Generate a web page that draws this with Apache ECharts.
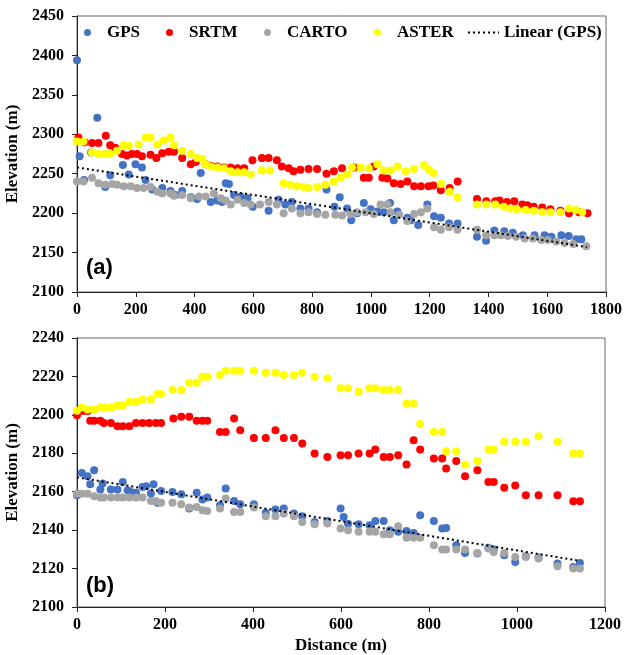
<!DOCTYPE html>
<html>
<head>
<meta charset="utf-8">
<script src="https://cdn.jsdelivr.net/npm/echarts@6/dist/echarts.min.js"></script>
<style>
  html, body { margin: 0; padding: 0; background: #fff; }
  #chart { width: 624px; height: 655px; }
</style>
</head>
<body>
<div id="chart"></div>
<script>
// panel (a) - [distance m, elevation m]
var gpsA = [[0,2394],[9,2272],[24,2242],[48,2277],[69,2321],[96,2233],[113,2248],[156,2261],[176,2249],[199,2262],[221,2258],[233,2242],[256,2230],[290,2232],[318,2228],[335,2223],[358,2228],[387,2220],[409,2218],[421,2251],[455,2214],[477,2216],[494,2214],[506,2238],[517,2237],[534,2223],[557,2221],[580,2219],[598,2208],[652,2203],[686,2217],[709,2211],[731,2214],[760,2206],[788,2206],[817,2201],[849,2230],[876,2208],[894,2220],[919,2206],[933,2191],[953,2200],[976,2213],[999,2205],[1022,2202],[1044,2201],[1065,2213],[1078,2191],[1090,2202],[1124,2194],[1136,2191],[1161,2185],[1192,2211],[1215,2196],[1238,2194],[1266,2187],[1295,2187],[1361,2170],[1392,2165],[1420,2178],[1454,2177],[1483,2175],[1517,2172],[1557,2172],[1591,2172],[1614,2170],[1648,2172],[1673,2171],[1699,2167],[1716,2167]];
var srtmA = [[5,2296],[26,2290],[51,2289],[73,2289],[98,2298],[113,2286],[130,2283],[153,2275],[170,2273],[187,2275],[204,2275],[221,2272],[250,2274],[270,2270],[290,2276],[312,2278],[330,2278],[358,2270],[387,2262],[404,2265],[438,2262],[455,2260],[477,2259],[500,2258],[523,2258],[546,2257],[569,2257],[597,2267],[629,2270],[652,2270],[680,2267],[697,2259],[720,2257],[737,2253],[760,2255],[788,2256],[817,2256],[849,2250],[874,2253],[902,2257],[942,2258],[976,2245],[993,2245],[1010,2259],[1039,2245],[1056,2244],[1078,2238],[1101,2237],[1124,2240],[1147,2234],[1170,2234],[1196,2234],[1213,2235],[1238,2229],[1268,2232],[1295,2240],[1361,2218],[1393,2215],[1423,2215],[1438,2216],[1463,2214],[1488,2215],[1515,2211],[1532,2210],[1554,2208],[1583,2207],[1611,2205],[1645,2203],[1674,2200],[1708,2201],[1737,2200]];
var cartoA = [[0,2240],[22,2240],[51,2245],[73,2238],[96,2236],[119,2237],[136,2236],[159,2234],[182,2234],[204,2232],[227,2232],[250,2233],[273,2227],[290,2225],[318,2225],[330,2222],[358,2223],[387,2219],[415,2221],[438,2221],[466,2225],[489,2219],[506,2216],[523,2211],[546,2217],[569,2213],[591,2211],[623,2211],[652,2214],[680,2211],[703,2200],[731,2206],[760,2200],[788,2201],[817,2199],[845,2198],[879,2198],[902,2197],[930,2199],[953,2201],[982,2201],[1010,2199],[1033,2211],[1056,2211],[1067,2201],[1096,2198],[1124,2190],[1147,2199],[1170,2201],[1192,2206],[1215,2182],[1238,2179],[1266,2182],[1295,2179],[1361,2179],[1392,2172],[1420,2172],[1443,2172],[1466,2171],[1494,2170],[1523,2168],[1551,2168],[1580,2166],[1602,2166],[1631,2164],[1659,2162],[1688,2161],[1733,2158]];
var asterA = [[0,2291],[22,2291],[51,2277],[73,2275],[96,2275],[113,2275],[136,2279],[159,2286],[176,2285],[210,2287],[233,2296],[250,2296],[273,2287],[295,2292],[318,2296],[330,2286],[358,2279],[387,2275],[409,2270],[426,2269],[438,2262],[455,2259],[477,2258],[500,2257],[523,2253],[546,2252],[569,2252],[591,2249],[629,2254],[657,2254],[703,2238],[726,2236],[749,2234],[771,2233],[788,2232],[817,2233],[845,2236],[874,2240],[896,2245],[919,2249],[936,2258],[965,2258],[993,2257],[1022,2262],[1044,2254],[1067,2254],[1090,2259],[1118,2253],[1147,2256],[1181,2261],[1198,2255],[1213,2251],[1238,2237],[1268,2227],[1295,2220],[1361,2211],[1393,2211],[1423,2211],[1452,2208],[1475,2206],[1497,2205],[1526,2204],[1554,2203],[1583,2201],[1611,2201],[1645,2201],[1674,2206],[1697,2204],[1719,2201]];
var trendA = [[0,2258],[1735,2157]];

// panel (b)
var gpsB = [[0,2158.2],[11,2169.8],[24,2168],[30,2163.9],[39,2171.2],[53,2161.1],[58,2164.3],[77,2161.1],[92,2161.1],[104,2165.1],[115,2160.8],[122,2159.9],[134,2159.4],[149,2162.5],[157,2162.9],[168,2159.1],[174,2163.9],[183,2154.2],[191,2160.4],[217,2159.9],[237,2158.7],[255,2151.2],[272,2159.4],[285,2155.9],[296,2157],[325,2153],[338,2161.7],[357,2155.2],[371,2153.5],[402,2153.5],[429,2149],[451,2150.7],[470,2151.2],[493,2148.6],[512,2147.2],[540,2144.3],[569,2144.8],[599,2151.2],[606,2146.9],[616,2143.3],[640,2143.1],[665,2142.6],[678,2144.8],[697,2144.8],[711,2139.9],[730,2139.1],[749,2139.6],[765,2138.5],[780,2147.8],[811,2144.8],[830,2140.8],[839,2141.1],[862,2132.1],[882,2128.1],[910,2127.8],[935,2130.9],[947,2129.9],[971,2126.9],[996,2123.4],[1020,2126.4],[1049,2125.7],[1092,2122.6],[1128,2120.8],[1143,2122.9]];
var srtmB = [[0,2199.8],[13,2202],[24,2202],[30,2196.9],[39,2196.9],[53,2196.9],[61,2195.8],[77,2195.8],[92,2194.1],[104,2194.1],[119,2194.1],[134,2195.8],[149,2195.8],[164,2195.8],[179,2195.8],[191,2195.8],[219,2198.1],[237,2199],[255,2199],[272,2196.9],[285,2196.9],[296,2196.9],[325,2191.1],[338,2191.1],[357,2198.1],[371,2192],[402,2188],[429,2188],[451,2192],[470,2188],[493,2188],[512,2185.1],[540,2179.9],[569,2178.1],[599,2179],[616,2179],[640,2179.9],[665,2179.9],[678,2182],[697,2178.1],[711,2178.1],[730,2179],[749,2174.2],[765,2186.8],[780,2182],[811,2177.3],[830,2177.3],[839,2172.1],[862,2176],[882,2168],[910,2171.2],[935,2165.1],[947,2165.1],[971,2162],[996,2163.2],[1020,2158.2],[1049,2158.2],[1092,2158.2],[1128,2155],[1143,2155]];
var cartoB = [[0,2159],[11,2159],[24,2159],[39,2157.7],[53,2157],[61,2157],[77,2157],[92,2157],[104,2157],[119,2157],[134,2157],[149,2157],[168,2155.2],[179,2155.2],[191,2154.2],[217,2154.2],[237,2153.5],[255,2151.8],[272,2152.1],[285,2150.4],[296,2150],[325,2151.2],[338,2156.5],[357,2149.5],[371,2149.5],[402,2151.8],[429,2147.2],[451,2147.2],[470,2148.6],[493,2147.2],[512,2144.3],[540,2143.1],[569,2143.4],[599,2140.8],[616,2139.9],[640,2139.1],[665,2139.1],[678,2139.1],[697,2137.9],[711,2137.9],[730,2142],[749,2136.1],[765,2136.1],[780,2136.1],[811,2132.1],[830,2129.9],[839,2129.9],[862,2129.9],[882,2129.9],[910,2128.1],[935,2130.4],[947,2128.6],[971,2128.1],[996,2126],[1020,2126],[1049,2125.2],[1092,2121.2],[1128,2120],[1143,2120]];
var asterB = [[0,2202.1],[11,2203.8],[24,2202.8],[39,2202.8],[54,2203.8],[61,2203.8],[77,2203.8],[92,2205],[104,2205],[119,2206.8],[134,2206.8],[149,2208],[168,2208],[183,2210.8],[191,2210.8],[217,2212.9],[237,2212.9],[255,2216.7],[272,2216.7],[285,2219.8],[296,2219.8],[325,2220.7],[338,2222.9],[357,2222.9],[371,2222.9],[402,2222.9],[429,2221.9],[451,2221.9],[470,2220.7],[493,2220.7],[512,2221.9],[540,2219.8],[569,2219],[599,2213.8],[616,2213.8],[640,2212],[665,2213.8],[678,2213.8],[697,2212.9],[711,2212.9],[730,2212.9],[749,2205.9],[765,2205.9],[780,2195.2],[811,2191.1],[830,2191.1],[839,2181.1],[862,2181.1],[882,2174.2],[910,2176],[935,2182],[947,2182],[971,2186],[996,2186],[1020,2186],[1049,2188.9],[1092,2186],[1128,2179.9],[1143,2179.9]];
var trendB = [[0,2167.5],[1143,2124]];

var names = ['GPS', 'SRTM', 'CARTO', 'ASTER', 'Linear (GPS)'];
var colors = ['#4472C4', '#FF0000', '#A5A5A5', '#FFFF00'];

var chart = echarts.init(document.getElementById('chart'), null, {renderer: 'canvas'});

var serif = 'Liberation Serif';
var tickLabel = {color: '#000', fontFamily: serif, fontWeight: 'bold', fontSize: 16,
  formatter: function (v) { return String(v); }};
var nameStyle = {color: '#000', fontFamily: serif, fontWeight: 'bold', fontSize: 17};

function xAxisCfg(idx, max, withName) {
  return {
    type: 'value', gridIndex: idx, min: 0, max: max, interval: 200,
    axisLine: {onZero: false, lineStyle: {color: '#222', width: 1}},
    axisTick: {show: true, length: 5, lineStyle: {color: '#222'}},
    axisLabel: Object.assign({margin: 10}, tickLabel),
    splitLine: {show: false},
    name: withName ? 'Distance (m)' : '',
    nameLocation: 'middle', nameGap: 30, nameTextStyle: nameStyle
  };
}
function yAxisCfg(idx, min, max, step) {
  return {
    type: 'value', gridIndex: idx, min: min, max: max, interval: step,
    axisLine: {show: true, onZero: false, lineStyle: {color: '#222', width: 1}},
    axisTick: {show: true, length: 5, lineStyle: {color: '#222'}},
    axisLabel: Object.assign({margin: 13}, tickLabel),
    splitLine: {show: false},
    name: 'Elevation (m)', nameLocation: 'middle', nameGap: 52, nameTextStyle: nameStyle
  };
}

function scatter(name, data, color, idx) {
  return {
    name: name, type: 'scatter', xAxisIndex: idx, yAxisIndex: idx,
    data: data, symbolSize: 8, itemStyle: {color: color, opacity: 1},
    animation: false
  };
}
function trend(data, idx) {
  return {
    name: 'Linear (GPS)', type: 'line', xAxisIndex: idx, yAxisIndex: idx,
    data: data, symbol: 'none', z: 5,
    lineStyle: {color: '#000', width: 2, type: [2, 3]},
    itemStyle: {color: 'rgba(0,0,0,0)'}, animation: false
  };
}

// one legend per entry so each can sit where it is in the original
var legendLeft = [84, 166, 264, 374, 467];
function legendFor(i) {
  var isLine = i === 4;
  return {
    data: isLine ? [{name: names[i], itemStyle: {opacity: 0}}] : [names[i]],
    left: legendLeft[i], top: 24, padding: 0,
    itemWidth: isLine ? 31 : 7, itemHeight: 7,
    textStyle: {color: '#000', fontFamily: serif, fontWeight: 'bold', fontSize: 17,
      padding: [0, 0, 0, isLine ? 0 : 11]},
    selectedMode: false
  };
}

chart.setOption({
  backgroundColor: '#fff',
  animation: false,
  grid: [
    {left: 77, top: 16, width: 529, height: 276, show: true, borderColor: '#666', borderWidth: 1,
      containLabel: false, outerBoundsMode: 'none'},
    {left: 77, top: 338, width: 528, height: 269, show: true, borderColor: '#666', borderWidth: 1,
      containLabel: false, outerBoundsMode: 'none'}
  ],
  legend: [0, 1, 2, 3, 4].map(legendFor),
  xAxis: [xAxisCfg(0, 1800, false), xAxisCfg(1, 1200, true)],
  yAxis: [yAxisCfg(0, 2100, 2450, 50), yAxisCfg(1, 2100, 2240, 20)],
  graphic: [
    {type: 'text', left: 86, top: 257, style: {text: '(a)', fill: '#000', font: 'bold 22px "Liberation Sans"'}},
    {type: 'text', left: 86, top: 575, style: {text: '(b)', fill: '#000', font: 'bold 22px "Liberation Sans"'}}
  ],
  series: [
    scatter('GPS', gpsA, colors[0], 0),
    scatter('SRTM', srtmA, colors[1], 0),
    scatter('CARTO', cartoA, colors[2], 0),
    scatter('ASTER', asterA, colors[3], 0),
    trend(trendA, 0),
    scatter('GPS', gpsB, colors[0], 1),
    scatter('SRTM', srtmB, colors[1], 1),
    scatter('CARTO', cartoB, colors[2], 1),
    scatter('ASTER', asterB, colors[3], 1),
    trend(trendB, 1)
  ]
});
</script>
</body>
</html>
